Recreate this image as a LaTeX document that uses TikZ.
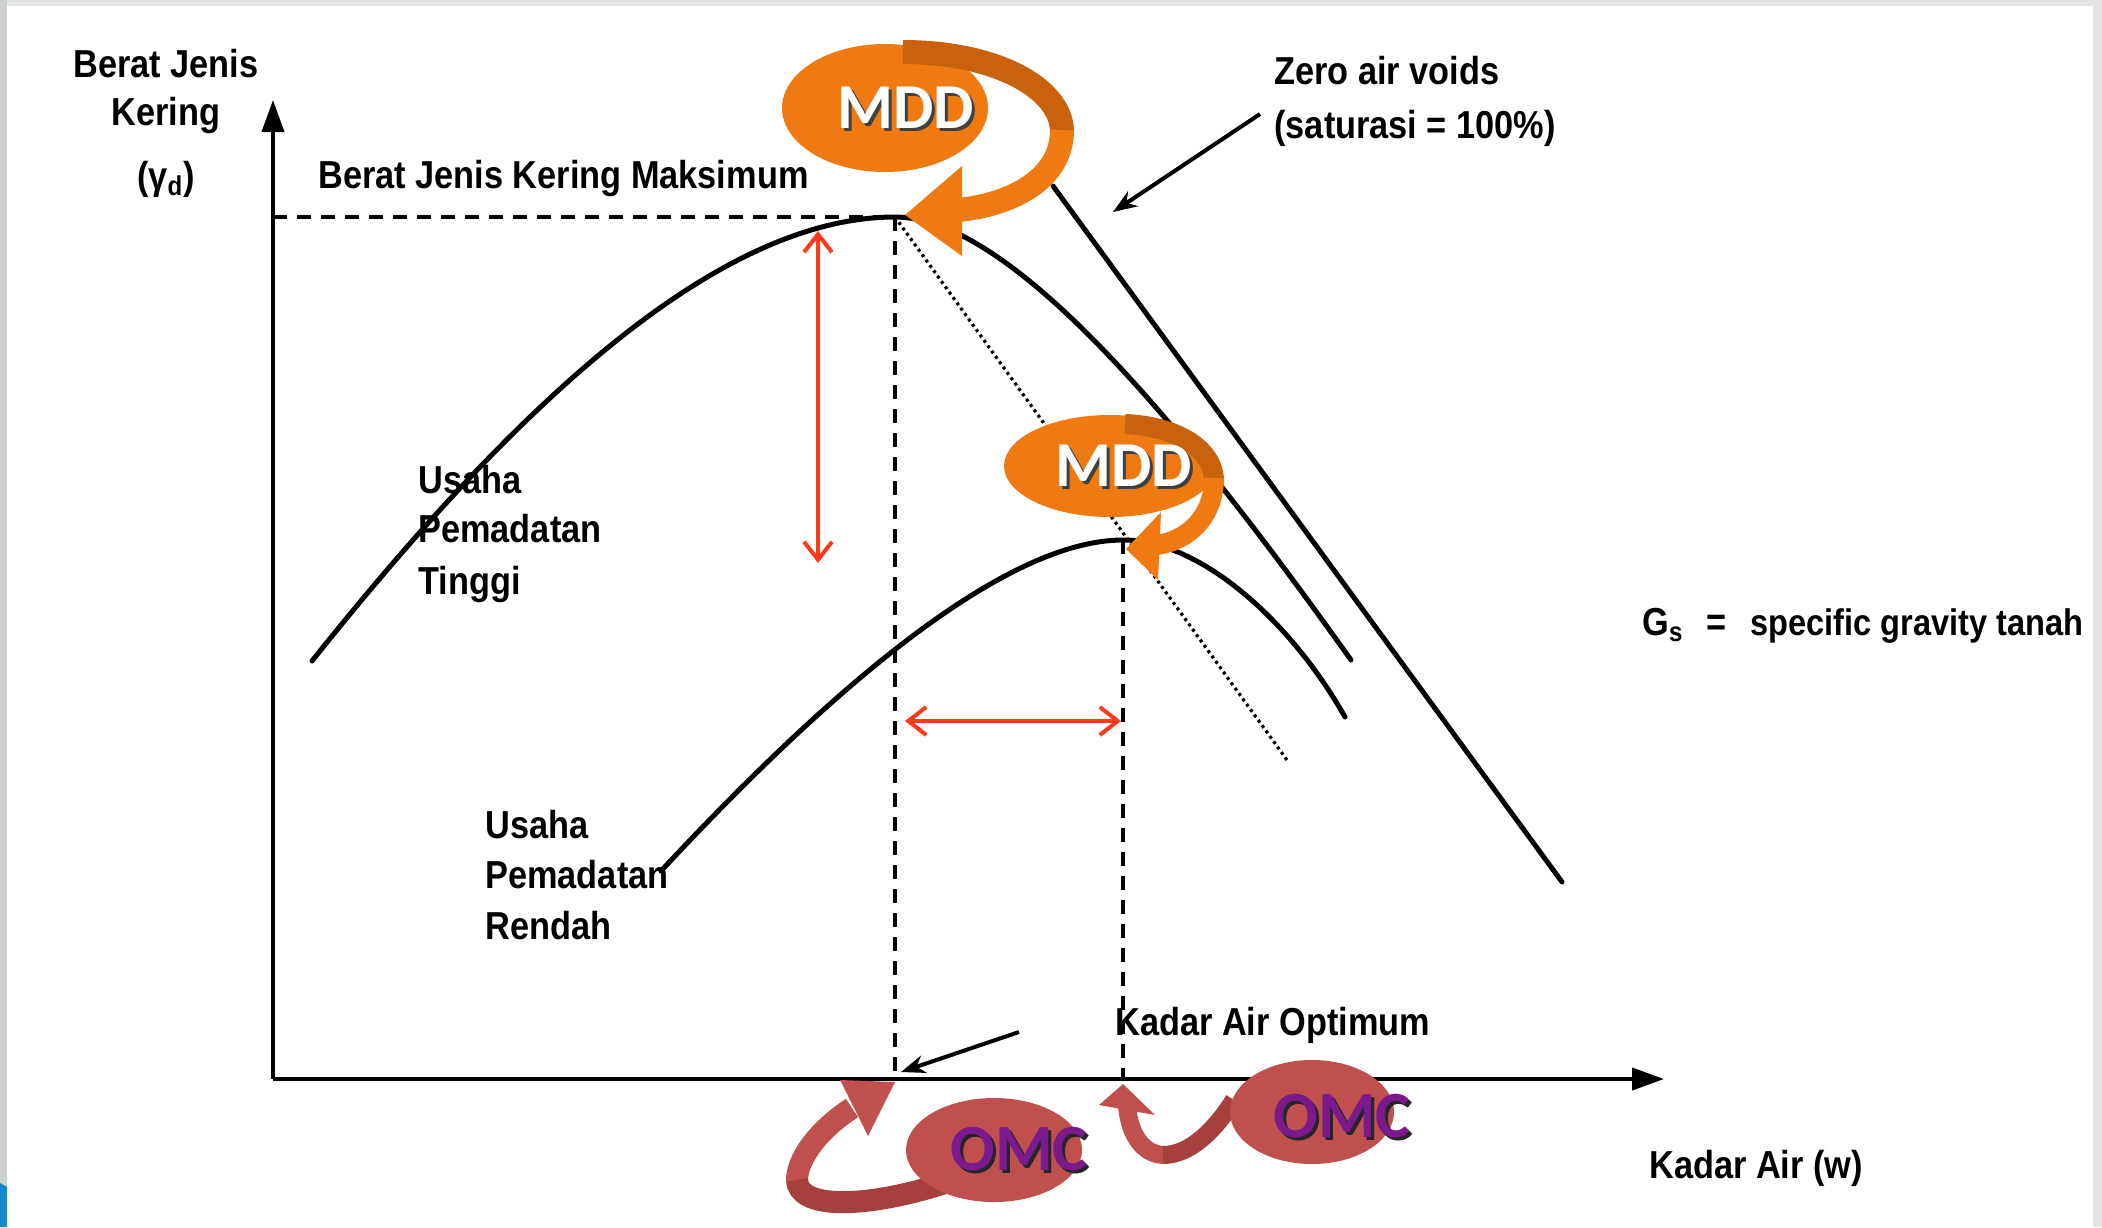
\documentclass[tikz,border=0pt]{standalone}
\usepackage{fontspec}
\setmainfont{Liberation Sans}[FakeStretch=0.88]
\newfontfamily\calfont{Carlito}
\usetikzlibrary{arrows.meta,shapes.geometric}
\definecolor{mddor}{HTML}{F07A12}
\definecolor{mdddark}{HTML}{C8620C}
\definecolor{omcred}{HTML}{C0504D}
\definecolor{omcdark}{HTML}{A5403D}
\definecolor{omcpurp}{HTML}{7A1A8C}
\definecolor{redarr}{HTML}{FF3A1A}
\definecolor{framegray}{HTML}{E2E4E4}
\definecolor{framegrayd}{HTML}{CDD0D0}
\definecolor{frameblue}{HTML}{1488C8}
\begin{document}
\begin{tikzpicture}[x=0.5pt,y=-0.5pt,
  lbl/.style={font=\bfseries\fontsize{19.5}{22}\selectfont, inner sep=0pt},
  axisline/.style={line width=2pt, -{Triangle[length=16pt,width=11pt]}},
  curve/.style={line width=2.5pt, line cap=round},
  dashline/.style={line width=2.4pt, dash pattern=on 7pt off 5pt},
  dotline/.style={line width=1.6pt, dash pattern=on 1.5pt off 1.8pt},
  redarrow/.style={draw=redarr, line width=2pt, {Straight Barb[length=9pt,width=14pt]}-{Straight Barb[length=9pt,width=14pt]}},
  blackarrow/.style={line width=2pt, -{Stealth[length=12pt,width=9pt]}},
  mddell/.style={ellipse, fill=mddor, inner sep=0pt},
  omcell/.style={ellipse, fill=omcred, inner sep=0pt},
  mddtext/.style={font=\calfont\bfseries\fontsize{32}{34}\selectfont, text=white, inner sep=0pt},
  mddshadow/.style={font=\calfont\bfseries\fontsize{32}{34}\selectfont, text=black!75, inner sep=0pt},
  omctext/.style={font=\calfont\bfseries\fontsize{33}{35}\selectfont, text=omcpurp, inner sep=0pt},
  omcshadow/.style={font=\calfont\bfseries\fontsize{33}{35}\selectfont, text=black!85, inner sep=0pt}
]
\useasboundingbox (0,0) rectangle (2102,1227);
% frame
\fill[white] (0,0) rectangle (2102,1227);
\fill[framegray] (0,0) rectangle (2102,6);
\fill[framegray] (2093,0) rectangle (2102,1227);
\fill[framegrayd] (0,0) rectangle (7,1227);
\fill[frameblue] (0,1183) -- (7,1187) -- (7,1227) -- (0,1227) -- cycle;

% coordinates
\coordinate (O) at (273,1079);
\coordinate (Ytip) at (273,100);
\coordinate (Xtip) at (1664,1079);
\coordinate (Yref) at (273,217);
\coordinate (P1) at (895,217);
\coordinate (P1b) at (895,1079);
\coordinate (P2) at (1123,540);
\coordinate (P2b) at (1123,1079);
\coordinate (U0) at (312,661);
\coordinate (U1) at (1351,660);
\coordinate (L0) at (661,871);
\coordinate (L1) at (1345,717);
\coordinate (D1) at (1287,760);
\coordinate (Z0) at (1053,186);
\coordinate (Z1) at (1562,882);
\coordinate (RVa) at (818,231);
\coordinate (RVb) at (818,563);
\coordinate (RHa) at (905,721);
\coordinate (RHb) at (1121,721);
\coordinate (ZA0) at (1260,114);
\coordinate (ZA1) at (1113,212);
\coordinate (KA0) at (1019,1032);
\coordinate (KA1) at (901,1072);

% dashed guides
\draw[dashline] (Yref) -- (P1);
\draw[dashline] (P1) -- (P1b);
\draw[dashline] (P2) -- (P2b);
\draw[dotline] (P1) -- (D1);

% axes
\draw[axisline] (O) -- (Ytip);
\draw[axisline] (O) -- (Xtip);

% curves
\draw[curve] (U0) .. controls (520,400) and (720,217) .. (P1)
             .. controls (1010,217) and (1180,420) .. (U1);
\draw[curve] (L0) .. controls (820,700) and (1000,540) .. (P2)
             .. controls (1200,540) and (1290,620) .. (L1);
\draw[curve] (Z0) -- (Z1);

% arrows
\draw[redarrow] (RVa) -- (RVb);
\draw[redarrow] (RHa) -- (RHb);
\draw[blackarrow] (ZA0) -- (ZA1);
\draw[blackarrow] (KA0) -- (KA1);

% MDD top
\node[mddell, minimum width=103pt, minimum height=64pt] (mddA) at (885,108) {};
\draw[mdddark, line width=12pt] (903,52) .. controls (995,52) and (1062,88) .. (1062,132);
\draw[mddor, line width=12pt] (1062,130) .. controls (1062,180) and (1010,205) .. (958,210);
\fill[mddor] (962,166) -- (905,215) -- (962,256) -- cycle;
\node[mddshadow] at (909,111) {MDD};
\node[mddtext] (mddAt) at (906,108) {MDD};

% MDD second
\node[mddell, minimum width=106pt, minimum height=51pt] (mddB) at (1110,466) {};
\draw[mdddark, line width=10pt] (1125,424) .. controls (1175,426) and (1213,448) .. (1214,480);
\draw[mddor, line width=10pt] (1214,478) .. controls (1214,515) and (1190,540) .. (1157,545);
\fill[mddor] (1161,512) -- (1126,549) -- (1158,580) -- cycle;
\node[mddshadow] at (1127,469) {MDD};
\node[mddtext] (mddBt) at (1124,466) {MDD};

% OMC left
\draw[omcred, line width=11pt] (852,1108) .. controls (818,1130) and (796,1160) .. (797,1182);
\draw[omcdark, line width=11pt] (797,1180) .. controls (798,1208) and (860,1210) .. (945,1183);
\fill[omcred] (840,1080) -- (895,1082) -- (868,1136) -- cycle;
\node[omcell, minimum width=88pt, minimum height=52pt] (omcA) at (994,1150) {};
\node[omcshadow] at (1022,1152) {OMC};
\node[omctext] (omcAt) at (1019,1149) {OMC};

% OMC right
\draw[omcred, line width=9pt] (1127,1106) .. controls (1130,1138) and (1145,1155) .. (1165,1155);
\draw[omcdark, line width=9pt] (1163,1155) .. controls (1190,1155) and (1215,1130) .. (1234,1100);
\fill[omcred] (1099,1105) -- (1123,1084) -- (1155,1115) -- cycle;
\node[omcell, minimum width=82pt, minimum height=52pt] (omcB) at (1312,1112) {};
\node[omcshadow] at (1345,1119) {OMC};
\node[omctext] (omcBt) at (1342,1116) {OMC};

% texts
\node[lbl, anchor=base] (t1) at (166,77) {Berat Jenis};
\node[lbl, anchor=base] (t2) at (166,125) {Kering};
\node[lbl, anchor=base] (t3) at (166,189) {(γ\textsubscript{d})};
\node[lbl, anchor=base west] (t4) at (318,188) {Berat Jenis Kering Maksimum};
\node[lbl, anchor=base west] (t5) at (1274,84) {Zero air voids};
\node[lbl, anchor=base west] (t6) at (1274,138) {(saturasi = 100\%)};
\node[lbl, anchor=base west] (t7) at (418,493) {Usaha};
\node[lbl, anchor=base west] (t8) at (418,542) {Pemadatan};
\node[lbl, anchor=base west] (t9) at (418,594) {Tinggi};
\node[lbl, anchor=base west] (t10) at (485,838) {Usaha};
\node[lbl, anchor=base west] (t11) at (485,888) {Pemadatan};
\node[lbl, anchor=base west] (t12) at (485,939) {Rendah};
\node[lbl, anchor=base west] (t13) at (1115,1035) {Kadar Air Optimum};
\node[lbl, anchor=base west] (t14) at (1642,635) {G\textsubscript{s}};
\node[lbl, anchor=base] (t15) at (1716,635) {=};
\node[lbl, anchor=base west, font=\bfseries\fontsize{18.5}{21}\selectfont] (t16) at (1750,635) {specific gravity tanah};
\node[lbl, anchor=base west] (t17) at (1649,1178) {Kadar Air (w)};
\end{tikzpicture}
\end{document}
